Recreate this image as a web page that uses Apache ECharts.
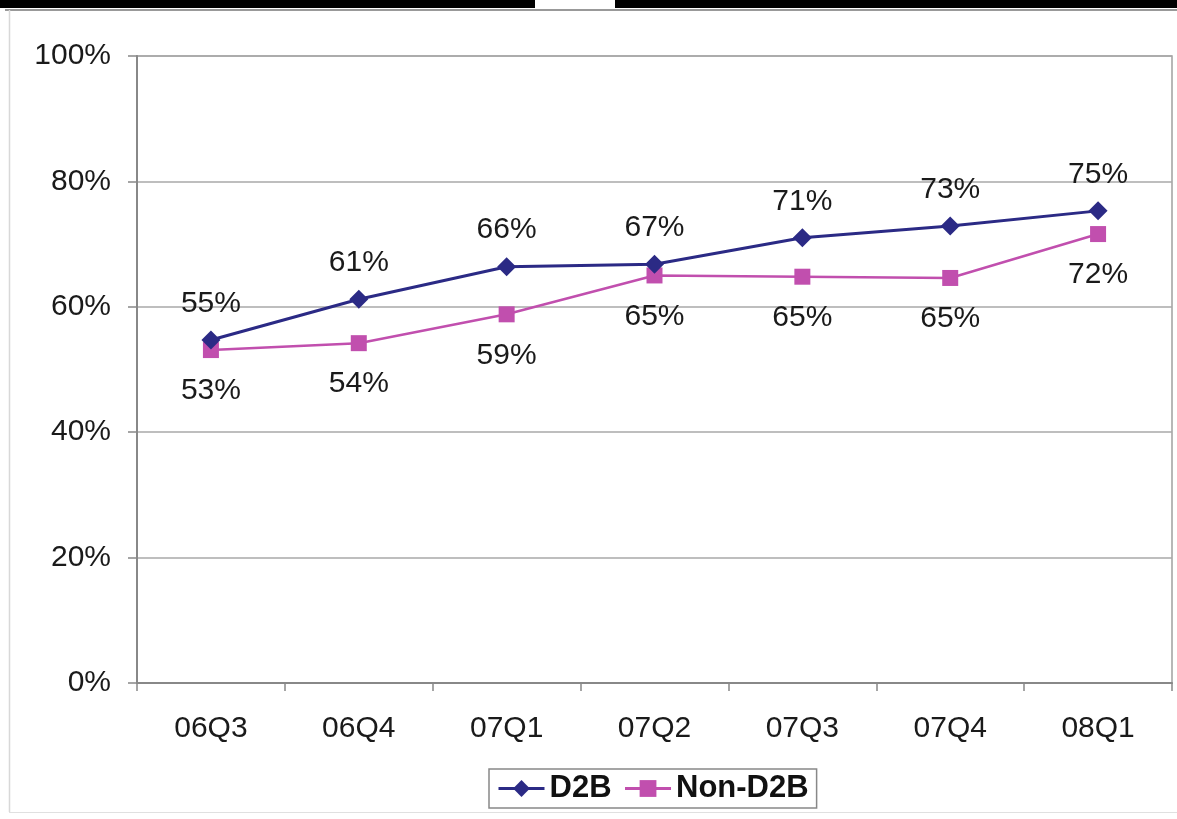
<!DOCTYPE html>
<html>
<head>
<meta charset="utf-8">
<script src="https://cdn.jsdelivr.net/npm/echarts@6/dist/echarts.min.js"></script>
<style>html,body{margin:0;padding:0;background:#fff;}#c{width:1177px;height:819px;}</style>
</head>
<body>
<div id="c"></div>
<script>
const categories = ['06Q3','06Q4','07Q1','07Q2','07Q3','07Q4','08Q1'];
const d2b = [54.7, 61.2, 66.4, 66.8, 71.0, 72.9, 75.3];
const nonD2b = [53.1, 54.2, 58.8, 65.0, 64.8, 64.6, 71.6];
const yTicks = [0, 20, 40, 60, 80, 100];

const chart = echarts.init(document.getElementById('c'), null, {renderer: 'canvas'});
const FONT = '"Liberation Sans", Arial, sans-serif';
chart.setOption({
  backgroundColor: '#fff',
  animation: false,
  textStyle: {fontFamily: FONT},
  graphic: [
    {type: 'rect', shape: {x: 0, y: 0, width: 535, height: 8}, style: {fill: '#000'}},
    {type: 'rect', shape: {x: 615, y: 0, width: 562, height: 8}, style: {fill: '#000'}},
    {type: 'line', shape: {x1: 5, y1: 10, x2: 1177, y2: 10}, style: {stroke: '#999', lineWidth: 2}},
    {type: 'line', shape: {x1: 9.5, y1: 10, x2: 9.5, y2: 812}, style: {stroke: '#d8d8d8', lineWidth: 1.5}},
    {type: 'line', shape: {x1: 9, y1: 812.5, x2: 1177, y2: 812.5}, style: {stroke: '#e0e0e0', lineWidth: 1}}
  ],
  grid: {left: 137, right: 5, top: 56, bottom: 136, show: true, borderColor: '#a0a0a0', borderWidth: 1.5},
  legend: {
    bottom: 11, left: 489,
    data: ['D2B', 'Non-D2B'],
    itemWidth: 46, itemHeight: 21, itemGap: 12,
    lineStyle: {width: 3},
    borderColor: '#888', borderWidth: 1.5, padding: [4, 8, 4, 8],
    textStyle: {fontSize: 31, fontWeight: 'bold', color: '#111', fontFamily: FONT}
  },
  xAxis: {
    type: 'category', data: categories, boundaryGap: true,
    axisLine: {lineStyle: {color: '#888', width: 2}},
    axisTick: {show: true, length: 8, lineStyle: {color: '#888', width: 1.5}},
    axisLabel: {fontSize: 30, color: '#1a1a1a', margin: 31, fontFamily: FONT}
  },
  yAxis: {
    type: 'value', min: 0, max: 100, interval: 20,
    axisLine: {show: true, lineStyle: {color: '#888', width: 2}},
    axisTick: {show: true, length: 9, lineStyle: {color: '#888', width: 1.5}},
    splitLine: {lineStyle: {color: '#a8a8a8', width: 1.5}},
    axisLabel: {fontSize: 30, color: '#1a1a1a', margin: 26, fontFamily: FONT,
      formatter: v => yTicks.includes(v) ? v + '%' : ''}
  },
  series: [
    {
      name: 'D2B', type: 'line', data: d2b,
      symbol: 'diamond', symbolSize: 19,
      itemStyle: {color: '#2b2a85'},
      lineStyle: {color: '#2b2a85', width: 3},
      label: {show: true, position: 'top', distance: 12, fontSize: 30, color: '#1a1a1a', fontFamily: FONT,
        formatter: p => Math.round(p.value) + '%'},
      z: 3
    },
    {
      name: 'Non-D2B', type: 'line', data: nonD2b,
      symbol: 'rect', symbolSize: 16,
      itemStyle: {color: '#c14fae'},
      lineStyle: {color: '#c14fae', width: 2.5},
      label: {show: true, position: 'bottom', distance: 18, fontSize: 30, color: '#1a1a1a', fontFamily: FONT,
        formatter: p => Math.round(p.value) + '%'},
      z: 2
    }
  ]
});
</script>
</body>
</html>
